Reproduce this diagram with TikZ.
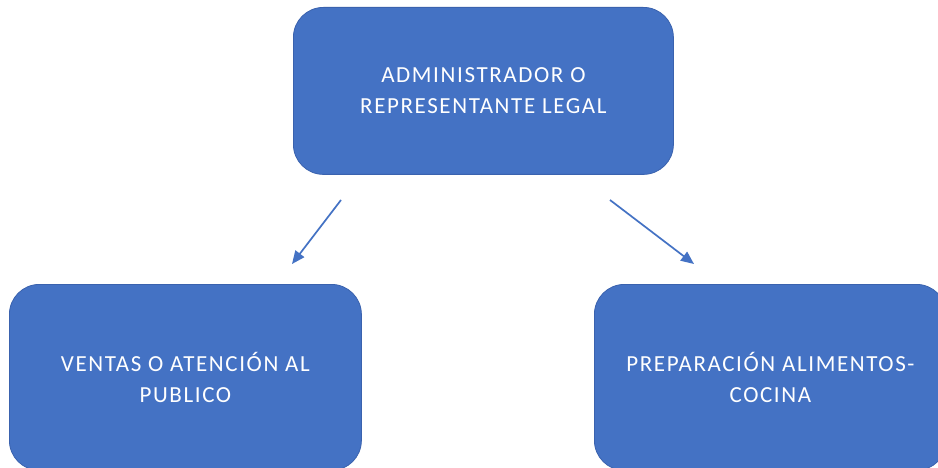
\documentclass[tikz,border=0pt]{standalone}
\usepackage{fontspec}
\setmainfont{Carlito}[LetterSpace=7]
\usetikzlibrary{arrows.meta}
\definecolor{boxblue}{HTML}{4472C4}
\definecolor{boxedge}{HTML}{3A62AE}
\begin{document}
\begin{tikzpicture}[x=1pt,y=-1pt,
  orgbox/.style={draw=boxedge,line width=0.8pt,fill=boxblue,rounded corners=30pt,
    text=white,font=\fontsize{23}{31}\selectfont,align=center,anchor=north west,inner sep=0pt},
  conn/.style={draw=boxblue,line width=1.7pt,-{Triangle[length=13pt,width=11pt]}}]
\useasboundingbox (0,0) rectangle (938,468);
\clip (0,0) rectangle (938,468);
\fill[white] (0,0) rectangle (938,468);
\node[orgbox,minimum width=380pt,minimum height=167pt] (top) at (293,7)
  {ADMINISTRADOR O\\REPRESENTANTE LEGAL};
\node[orgbox,minimum width=352pt,minimum height=186pt] (left) at (9,284)
  {VENTAS O ATENCIÓN AL\\PUBLICO};
\node[orgbox,minimum width=352pt,minimum height=186pt] (right) at (594,284)
  {PREPARACIÓN ALIMENTOS-\\COCINA};
\coordinate (l1) at (341,200);
\coordinate (l2) at (292,264);
\coordinate (r1) at (610,200);
\coordinate (r2) at (694,264);
\draw[conn] (l1) -- (l2);
\draw[conn] (r1) -- (r2);
\end{tikzpicture}
\end{document}
